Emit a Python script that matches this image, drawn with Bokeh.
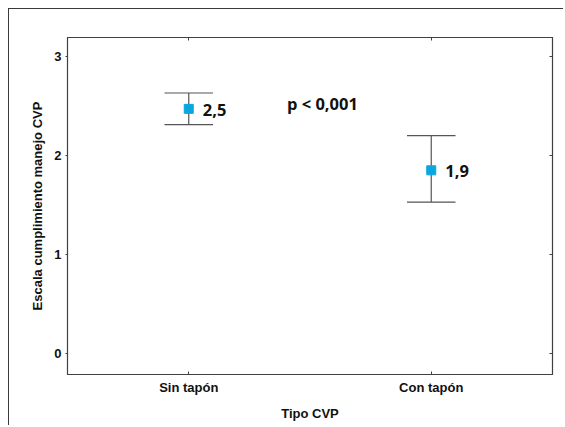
from bokeh.plotting import figure
from bokeh.models import FixedTicker, LinearAxis, Label, Range1d, ColumnDataSource, CustomJSTickFormatter
from bokeh.core.properties import value
from bokeh.embed import file_html
from bokeh.resources import INLINE

# ---- data ----
categories = ["Sin tapón", "Con tapón"]
means = [2.47, 1.85]
lower = [2.31, 1.53]
upper = [2.63, 2.20]
value_labels = ["2,5", "1,9"]
y_ticks = [0, 1, 2, 3]
p_text = "p < 0,001"
x_title = "Tipo CVP"
y_title = "Escala cumplimiento manejo CVP"

xpos = [i + 1 for i in range(len(categories))]
cap = 0.1

src = ColumnDataSource(dict(
    x=xpos, m=means, lo=lower, hi=upper, lab=value_labels,
    xl=[x - cap for x in xpos], xr=[x + cap for x in xpos],
))

FRAME = "#404040"
TXT = "#111111"
AXF = "Liberation Sans"

p = figure(width=555, height=417, output_backend="svg", toolbar_location=None,
           x_range=Range1d(0.5, 2.5), y_range=Range1d(-0.21, 3.19),
           min_border_left=58, min_border_top=28, min_border_right=12, min_border_bottom=52)
p.styles = {"margin-left": "8px", "margin-top": "8px",
            "border-left": "1.5px solid #3a3a3a", "border-top": "1.5px solid #3a3a3a"}
p.xgrid.visible = False
p.ygrid.visible = False
p.outline_line_color = FRAME
p.outline_line_width = 1.2
p.background_fill_color = "white"
p.border_fill_color = "white"

# bottom axis
xa = p.xaxis[0]
xa.ticker = FixedTicker(ticks=xpos)
xa.major_label_overrides = {x: c for x, c in zip(xpos, categories)}
xa.axis_label = x_title
xa.axis_line_color = FRAME
xa.major_tick_in = 3
xa.major_tick_out = 0
xa.minor_tick_line_color = None
xa.major_tick_line_color = FRAME
xa.major_label_standoff = 5
xa.axis_label_standoff = 8
xa.major_label_text_font = AXF
xa.major_label_text_font_style = "bold"
xa.major_label_text_font_size = "13px"
xa.major_label_text_color = TXT
xa.axis_label_text_font = AXF
xa.axis_label_text_font_style = "bold"
xa.axis_label_text_font_size = "13px"
xa.axis_label_text_color = TXT

# left axis
ya = p.yaxis[0]
ya.ticker = FixedTicker(ticks=y_ticks)
ya.axis_label = y_title
ya.axis_line_color = FRAME
ya.major_tick_in = 0
ya.major_tick_out = 2
ya.minor_tick_line_color = None
ya.major_tick_line_color = FRAME
ya.major_label_standoff = 4
ya.axis_label_standoff = 6
ya.major_label_text_font = AXF
ya.major_label_text_font_style = "bold"
ya.major_label_text_font_size = "13px"
ya.major_label_text_color = TXT
ya.axis_label_text_font = AXF
ya.axis_label_text_font_style = "bold"
ya.axis_label_text_font_size = "13px"
ya.axis_label_text_color = TXT

# top and right axes (ticks only, no labels)
blank = CustomJSTickFormatter(code="return ''")
top = LinearAxis(ticker=FixedTicker(ticks=xpos), major_tick_in=3, major_tick_out=0,
                 minor_tick_line_color=None, formatter=blank,
                 major_label_standoff=0, axis_line_color=FRAME, major_tick_line_color=FRAME)
right = LinearAxis(ticker=FixedTicker(ticks=y_ticks), major_tick_in=3, major_tick_out=0,
                   minor_tick_line_color=None, formatter=blank,
                   major_label_standoff=0, axis_line_color=FRAME, major_tick_line_color=FRAME)
p.add_layout(top, "above")
p.add_layout(right, "right")

# error bars
ECOL = "#555555"
p.segment(x0="x", y0="lo", x1="x", y1="hi", source=src, line_color=ECOL, line_width=1.2)
p.segment(x0="xl", y0="hi", x1="xr", y1="hi", source=src, line_color=ECOL, line_width=1.2)
p.segment(x0="xl", y0="lo", x1="xr", y1="lo", source=src, line_color=ECOL, line_width=1.2)

# means
p.scatter(x="x", y="m", source=src, marker="square", size=9,
          fill_color="#0aa6e0", line_color="#0aa6e0")

# value labels
p.text(x="x", y="m", text="lab", source=src, x_offset=14, y_offset=1,
       text_font=value("Open Sans"), text_font_style="bold", text_font_size="16.5px",
       text_baseline="middle", text_align="left", text_color=TXT)

p.add_layout(Label(x=1.405, y=2.52, text=p_text, text_font="Open Sans",
                   text_font_style="bold", text_font_size="16.5px",
                   text_baseline="middle", text_align="left", text_color=TXT))

open("out.html", "w").write(file_html(p, INLINE))
